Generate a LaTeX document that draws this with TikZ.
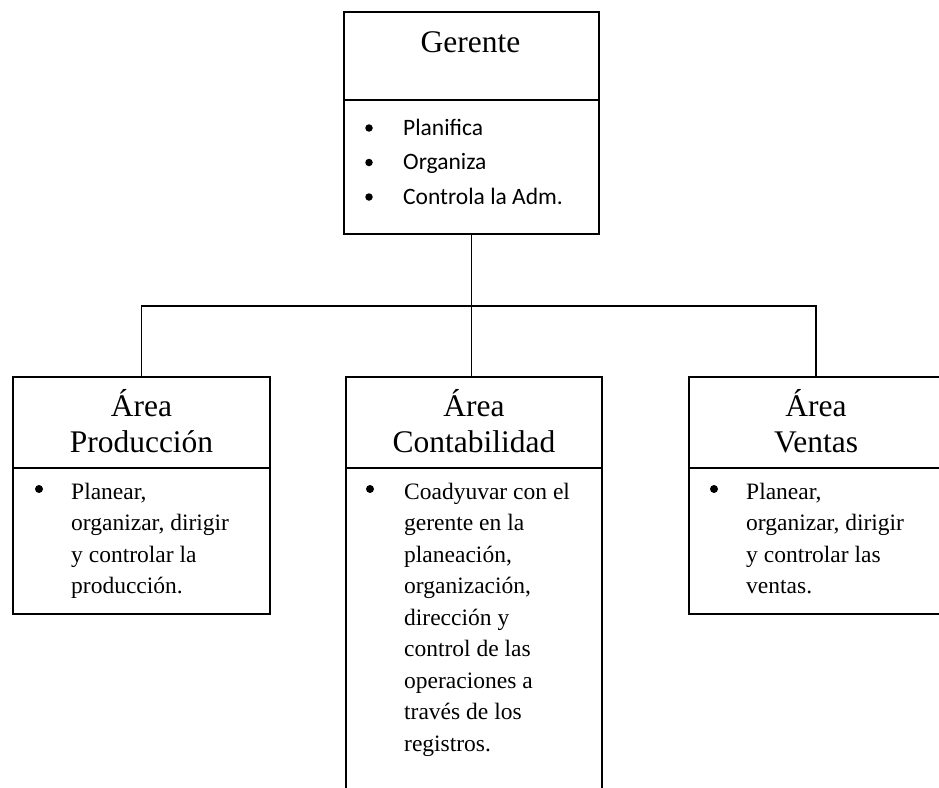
\documentclass[tikz,border=0pt]{standalone}
\usepackage{fontspec}
\setmainfont{Liberation Serif}
\newfontfamily\listfont{Carlito}
\begin{document}
\begin{tikzpicture}[x=1pt,y=-1pt,
  box/.style={draw, line width=2pt, inner sep=0pt, anchor=north west},
  link/.style={line width=1.3pt},
  titletext/.style={font=\fontsize{31.5}{36.5}\selectfont, anchor=base, inner sep=0pt},
  bodytext/.style={font=\fontsize{23.5}{31.5}\selectfont, anchor=base west, inner sep=0pt},
  listtext/.style={font=\listfont\fontsize{23.5}{34.5}\selectfont, anchor=base west, inner sep=0pt},
  dot/.style={circle, fill=black, inner sep=0pt, minimum size=8pt},
  smalldot/.style={circle, fill=black, inner sep=0pt, minimum size=7.5pt}
]
\useasboundingbox (0,0) rectangle (939,787);
\fill[white] (0,0) rectangle (939,787);
\clip (0,0) rectangle (939,787);

% Gerente
\node[box, minimum width=255pt, minimum height=88pt] (gh) at (343,11) {};
\node[box, minimum width=255pt, minimum height=134pt] (gb) at (343,99) {};
\node[titletext] (gt) at (470.5,52) {Gerente};
\node[smalldot] (gd1) at (369,128) {};
\node[smalldot] (gd2) at (369,162.5) {};
\node[smalldot] (gd3) at (369,197) {};
\node[listtext] (gl1) at (403,135) {Planifica};
\node[listtext] (gl2) at (403,169.5) {Organiza};
\node[listtext] (gl3) at (403,204) {Controla la Adm.};

% Area boxes
\node[box, minimum width=257pt, minimum height=91pt] (ph) at (12,376) {};
\node[box, minimum width=257pt, minimum height=146pt] (pb) at (12,467) {};
\node[box, minimum width=256pt, minimum height=91pt] (ch) at (345,376) {};
\node[box, minimum width=256pt, minimum height=340pt] (cb) at (345,467) {};
\node[box, minimum width=254pt, minimum height=91pt] (vh) at (688,376) {};
\node[box, minimum width=254pt, minimum height=146pt] (vb) at (688,467) {};

% Titles
\node[titletext] (pt) at (ph.north) [yshift=-40pt] {\parbox[t]{250pt}{\centering Área\\Producción}};
\node[titletext] (ct) at (ch.north) [yshift=-40pt] {\parbox[t]{250pt}{\centering Área\\Contabilidad}};
\node[titletext] (vt) at (vh.north) [yshift=-40pt] {\parbox[t]{250pt}{\centering Área\\Ventas}};

% Bodies
\node[dot] (pd) at (39,489) {};
\node[bodytext] (ptx) at (71,499) {\parbox[t]{195pt}{\raggedright Planear,\\organizar, dirigir\\y controlar la\\producción.}};
\node[dot] (cd) at (370,489) {};
\node[bodytext] (ctx) at (404,499) {\parbox[t]{195pt}{\raggedright Coadyuvar con el\\gerente en la\\planeación,\\organización,\\dirección y\\control de las\\operaciones a\\través de los\\registros.}};
\node[dot] (vd) at (714,489) {};
\node[bodytext] (vtx) at (746,499) {\parbox[t]{195pt}{\raggedright Planear,\\organizar, dirigir\\y controlar las\\ventas.}};

% Connectors
\coordinate (bus) at (471,306);
\draw[link] (gb.south) -- (gb.south |- ch.north);
\draw[link] (ph.north) -- (ph.north |- bus) -- (vh.north |- bus) -- (vh.north);
\end{tikzpicture}
\end{document}
